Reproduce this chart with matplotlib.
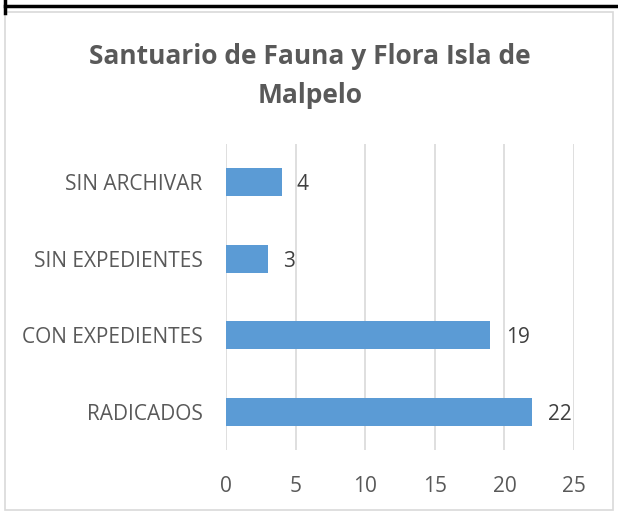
import matplotlib.pyplot as plt
from matplotlib.lines import Line2D
from matplotlib.patches import Rectangle

plt.rcParams['font.family'] = ['Open Sans', 'DejaVu Sans']

# datos del gráfico
categorias = ['RADICADOS', 'CON EXPEDIENTES', 'SIN EXPEDIENTES', 'SIN ARCHIVAR']
valores = [22, 19, 3, 4]
ticks_x = [0, 5, 10, 15, 20, 25]
titulo = 'Santuario de Fauna y Flora Isla de\nMalpelo'

W, H = 618, 515
fig = plt.figure(figsize=(W / 100, H / 100), dpi=100)

# marco exterior del gráfico y línea superior
fig.patches.append(Rectangle((5 / W, 5 / H), 608 / W, 498 / H, transform=fig.transFigure,
                             fill=False, edgecolor='#D9D9D9', linewidth=1.2))
fig.lines.append(Line2D([5 / W, 1], [1 - 6 / H, 1 - 6 / H], transform=fig.transFigure,
                        color='black', linewidth=2.5))
fig.lines.append(Line2D([5 / W, 5 / W], [1 - 13 / H, 1], transform=fig.transFigure,
                        color='black', linewidth=2.5))

# área de trazado en píxeles
x0, x1 = 226, 574
y0, y1 = 144, 450
ax = fig.add_axes([x0 / W, 1 - y1 / H, (x1 - x0) / W, (y1 - y0) / H])

ax.barh(range(len(categorias)), valores, height=0.37, color='#5B9BD5', zorder=3)
for i, v in enumerate(valores):
    ax.text(v + 1.1, i - 0.03, str(v), va='center', ha='left', fontsize=15, color='#404040')

ax.set_xlim(0, 25)
ax.set_ylim(-0.5, len(categorias) - 0.5)
ax.set_xticks(ticks_x)
ax.set_yticks(range(len(categorias)))
ax.set_yticklabels(categorias)
ax.tick_params(axis='both', length=0, labelsize=15, colors='#595959')
ax.tick_params(axis='x', pad=19)
ax.tick_params(axis='y', pad=17)
ax.grid(axis='x', color='#D9D9D9', linewidth=1.2, zorder=0)
for s in ax.spines.values():
    s.set_visible(False)

fig.text(310 / W, 1 - 76 / H, titulo, ha='center', va='center', fontsize=19,
         fontweight='bold', color='#595959', linespacing=1.6)

fig.savefig('out.png', dpi=100)
